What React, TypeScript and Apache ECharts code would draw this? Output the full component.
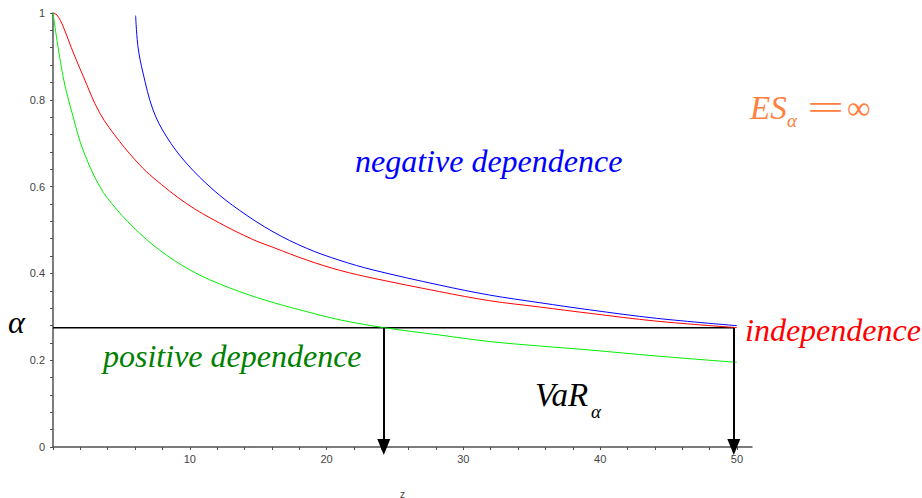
import React, { useEffect, useRef } from "react";
import * as echarts from "echarts";

// z values and alpha levels
const RED_INDEPENDENCE: [number, number][] = [
  [0, 1], [0.3, 0.995], [0.73, 0.97], [1.34, 0.92], [2.2, 0.855], [3.41, 0.77],
  [4.87, 0.704], [6.34, 0.65], [7.31, 0.621], [9.75, 0.561], [12.18, 0.516],
  [14.62, 0.478], [16.09, 0.46], [18.53, 0.431], [20.97, 0.407], [23.4, 0.389], [28.27, 0.358],
  [31.93, 0.337], [35.58, 0.3226], [39.24, 0.308], [44.12, 0.29], [50, 0.275],
];
const GREEN_POSITIVE: [number, number][] = [
  [0, 1], [0.74, 0.853], [1.47, 0.761], [2.2, 0.684], [3.42, 0.6], [4.64, 0.548],
  [6.35, 0.492], [8.3, 0.442], [10.73, 0.396], [13.65, 0.358], [16.09, 0.333], [18.53, 0.312],
  [20.97, 0.293], [24.18, 0.275], [28.27, 0.258], [31.93, 0.243], [35.58, 0.2327],
  [39.24, 0.2235], [44.12, 0.2097], [50, 0.195],
];
const BLUE_NEGATIVE: [number, number][] = [
  [6.04, 0.994], [6.21, 0.923], [6.58, 0.862], [7.31, 0.777], [8.28, 0.716], [9.75, 0.654],
  [11.7, 0.593], [13.65, 0.545], [16.08, 0.496], [18.53, 0.458], [20.97, 0.43], [23.4, 0.408],
  [28.27, 0.373], [31.93, 0.35], [35.58, 0.3325], [39.24, 0.316], [44.12, 0.2965], [50, 0.2795],
];
const ALPHA_LEVEL = 0.275;
const VAR_POSITIVE = 24.18;
const VAR_INDEPENDENT = 49.77;

const X_TICKS = [0, 2, 4, 6, 8, 10, 12, 14, 16, 18, 20, 22, 24, 26, 28, 30, 32, 34, 36, 38, 40, 42, 44, 46, 48, 50];
const X_LABELS = [10, 20, 30, 40, 50];
const Y_TICKS = [0, 0.04, 0.08, 0.12, 0.16, 0.2, 0.24, 0.28, 0.32, 0.36, 0.4, 0.44, 0.48, 0.52, 0.56, 0.6, 0.64, 0.68, 0.72, 0.76, 0.8, 0.84, 0.88, 0.92, 0.96, 1];
const Y_LABELS = [0, 0.2, 0.4, 0.6, 0.8, 1];
const X_MAX = 51.1;

const SERIF = '"Liberation Serif", "DejaVu Serif", serif';
const SANS = '"Liberation Sans", Arial, sans-serif';

export default function App() {
  const ref = useRef<HTMLDivElement>(null);
  useEffect(() => {
    if (!ref.current) return;
    const chart = echarts.init(ref.current, undefined, { renderer: "svg" });
    const curve = (name: string, data: [number, number][], color: string) => ({
      name,
      type: "line",
      data,
      showSymbol: false,
      smooth: 0.35,
      lineStyle: { color, width: 1 },
      itemStyle: { color },
      z: 3,
    });
    chart.setOption({
      animation: false,
      grid: { left: 53, right: 170, top: 13, bottom: 51, containLabel: false, outerBoundsMode: "none" },
      xAxis: {
        type: "value",
        min: 0,
        max: X_MAX,
        name: "z",
        nameLocation: "middle",
        nameGap: 42,
        nameTextStyle: { color: "#444", fontSize: 10, fontFamily: SANS },
        splitLine: { show: false },
        axisLine: { onZero: false, lineStyle: { color: "#505050", width: 1.5 } },
        axisTick: { customValues: X_TICKS, length: 3, lineStyle: { color: "#505050" } },
        axisLabel: { customValues: X_LABELS, color: "#444", fontSize: 11, margin: 6, fontFamily: SANS },
      },
      yAxis: {
        type: "value",
        min: 0,
        max: 1,
        splitLine: { show: false },
        axisLine: { onZero: false, lineStyle: { color: "#505050", width: 1.5 } },
        axisTick: { customValues: Y_TICKS, length: 3, lineStyle: { color: "#505050" } },
        axisLabel: { customValues: Y_LABELS, color: "#444", fontSize: 11, margin: 8, fontFamily: SANS },
      },
      series: [
        curve("negative dependence", BLUE_NEGATIVE, "#0000ff"),
        curve("independence", RED_INDEPENDENCE, "#ff0000"),
        curve("positive dependence", GREEN_POSITIVE, "#00ee00"),
        {
          name: "alpha",
          type: "line",
          data: [[0, ALPHA_LEVEL], [VAR_INDEPENDENT, ALPHA_LEVEL]],
          showSymbol: false,
          lineStyle: { color: "#000", width: 1.5 },
          z: 2,
          markLine: {
            silent: true,
            symbol: ["none", "triangle"],
            symbolSize: [13, 16],
            label: { show: false },
            lineStyle: { color: "#000", width: 2, type: "solid" },
            data: [
              [{ coord: [VAR_POSITIVE, ALPHA_LEVEL] }, { coord: [VAR_POSITIVE, 0] }],
              [{ coord: [VAR_INDEPENDENT, ALPHA_LEVEL] }, { coord: [VAR_INDEPENDENT, 0] }],
            ],
          },
        },
      ],
      graphic: [
        { type: "text", left: 355, top: 145, style: { text: "negative dependence", font: `italic 32px ${SERIF}`, fill: "#0000ff" } },
        { type: "text", left: 103, top: 340, style: { text: "positive dependence", font: `italic 32px ${SERIF}`, fill: "#008000" } },
        { type: "text", left: 745, top: 314, style: { text: "independence", font: `italic 32px ${SERIF}`, fill: "#ff0000" } },
        { type: "text", left: 8, top: 306, style: { text: "α", font: `italic 32px ${SERIF}`, fill: "#000" } },
        { type: "text", left: 535, top: 378, style: { text: "VaR", font: `italic 33px ${SERIF}`, fill: "#000" } },
        { type: "text", left: 591, top: 402, style: { text: "α", font: `italic 19px ${SERIF}`, fill: "#000" } },
        { type: "text", left: 750, top: 91, style: { text: "ES", font: `italic 33px ${SERIF}`, fill: "#ff8040" } },
        { type: "text", left: 787, top: 111, style: { text: "α", font: `italic 19px ${SERIF}`, fill: "#ff8040" } },
        { type: "text", x: 807, y: 91, scaleX: 2, style: { text: "=", font: `33px ${SERIF}`, fill: "#ff8040" } },
        { type: "text", left: 847, top: 91, style: { text: "∞", font: `33px ${SERIF}`, fill: "#ff8040" } },
      ],
    });
    return () => chart.dispose();
  }, []);
  return <div ref={ref} style={{ position: "absolute", left: 0, top: 0, width: 922, height: 498 }} />;
}
